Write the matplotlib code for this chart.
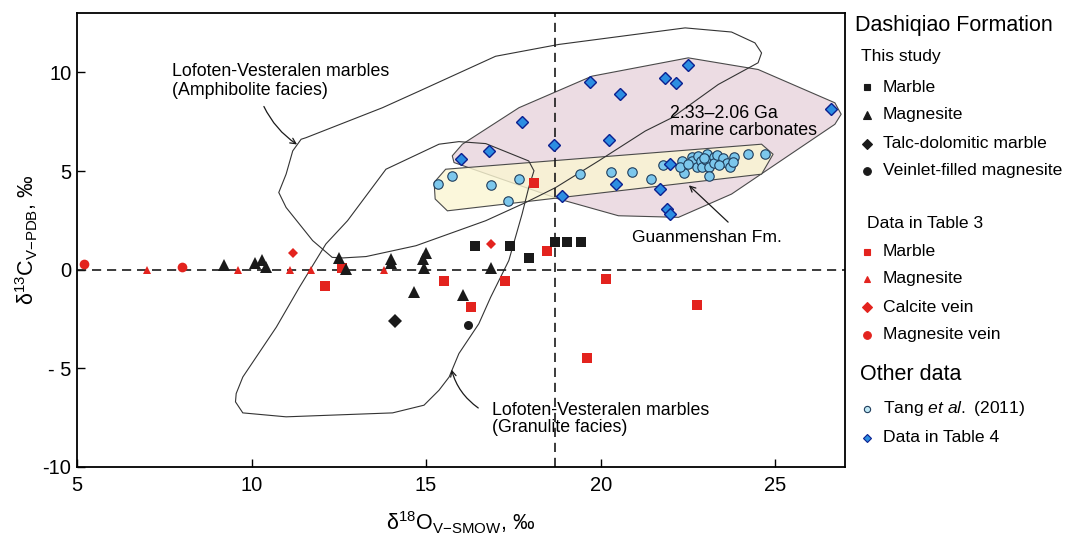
import numpy as np
import matplotlib
matplotlib.use("Agg")
import matplotlib.pyplot as plt
from matplotlib.patches import Polygon

plt.rcParams['font.family'] = ['Liberation Sans', 'DejaVu Sans']
plt.rcParams['mathtext.fontset'] = 'custom'
plt.rcParams['mathtext.rm'] = 'Liberation Sans'
plt.rcParams['mathtext.it'] = 'Liberation Sans:italic'
plt.rcParams['mathtext.bf'] = 'Liberation Sans:bold'

# ---- data: this study (black) ----
marble_x = [16.4, 17.4, 17.95, 18.7, 19.05, 19.45]
marble_y = [1.2, 1.2, 0.6, 1.4, 1.4, 1.4]
magn_x = [9.2, 10.1, 10.3, 10.4, 12.5, 12.7, 14.0, 14.0, 14.9, 15.0, 14.95, 14.65, 16.05, 16.85]
magn_y = [0.25, 0.35, 0.5, 0.15, 0.6, 0.05, 0.55, 0.35, 0.55, 0.85, 0.1, -1.15, -1.3, 0.1]
talc_x = [14.1]
talc_y = [-2.6]
veinlet_x = [16.2]
veinlet_y = [-2.8]

# ---- data in Table 3 (red) ----
t3_marble_x = [12.1, 12.6, 15.5, 16.3, 17.25, 18.45, 18.1, 20.15, 19.6, 22.75]
t3_marble_y = [-0.85, 0.1, -0.6, -1.9, -0.6, 0.95, 4.4, -0.5, -4.5, -1.8]
t3_magn_x = [7.0, 9.6, 11.1, 11.7, 13.8]
t3_magn_y = [0.0, 0.0, 0.0, 0.0, 0.0]
t3_calcite_x = [11.2, 16.85]
t3_calcite_y = [0.85, 1.3]
t3_mvein_x = [5.2, 8.0]
t3_mvein_y = [0.3, 0.15]

# ---- other data ----
tang_x = [15.35, 15.75, 16.85, 17.65, 17.35, 19.4, 20.3, 20.9, 21.45, 21.8, 22.4,
          22.32, 22.28, 22.61, 22.63, 22.75, 22.8, 22.88, 22.91, 23.04, 23.01, 23.09,
          23.11, 23.26, 23.26, 23.32, 23.51, 23.61, 23.72, 23.83, 23.8, 24.23, 24.72,
          22.5, 22.95, 23.4]
tang_y = [4.35, 4.75, 4.3, 4.6, 3.5, 4.85, 4.95, 4.95, 4.6, 5.3, 4.9,
          5.51, 5.21, 5.72, 5.51, 5.21, 5.77, 5.51, 5.21, 5.85, 5.54, 5.18,
          4.75, 5.72, 5.43, 5.8, 5.68, 5.43, 5.21, 5.72, 5.48, 5.85, 5.85,
          5.35, 5.65, 5.3]
t4_x = [16.0, 16.8, 17.75, 18.65, 19.7, 20.55, 20.25, 20.45, 18.9, 22.5, 21.85,
        22.15, 26.6, 22.0, 21.7, 21.9, 22.0]
t4_y = [5.6, 6.0, 7.5, 6.3, 9.5, 8.9, 6.55, 4.35, 3.75, 10.4, 9.7,
        9.45, 8.15, 5.35, 4.1, 3.05, 2.8]

# ---- field outlines ----
amph_x = [11.42, 11.56, 13.75, 14.8, 16.99, 18.8, 22.42, 23.75, 24.42, 24.61, 24.51,
          23.37, 22.04, 21.28, 19.94, 18.71, 17.85, 16.71, 14.71, 13.28, 12.61, 12.31,
          11.75, 10.99, 10.78, 10.99, 11.18]
amph_y = [6.61, 6.69, 8.21, 9.05, 10.82, 11.42, 12.26, 12.05, 11.5, 10.99, 10.49,
          9.39, 7.7, 7.03, 5.51, 4.16, 3.4, 2.48, 1.21, 0.66, 0.59, 0.62,
          1.47, 3.15, 3.91, 4.84, 6.02]
gran_x = [13.85, 15.37, 15.94, 16.71, 17.94, 18.09, 17.94, 17.75, 17.37, 16.85, 16.51,
          15.94, 15.66, 15.37, 14.94, 14.04, 10.99, 9.75, 9.54, 9.56, 9.75, 10.71,
          11.37, 12.13, 12.75]
gran_y = [5.09, 6.36, 6.49, 6.39, 5.51, 5.01, 4.16, 2.82, 0.46, -1.4, -2.75,
          -4.26, -5.45, -6.12, -6.88, -7.27, -7.47, -7.27, -6.71, -6.29, -5.45, -2.92,
          -0.9, 1.3, 2.48]
marine_x = [15.75, 16.04, 17.66, 19.75, 22.51, 24.51, 26.71, 26.89, 26.71, 23.75,
            22.23, 20.51, 18.8, 15.8]
marine_y = [5.77, 6.36, 8.21, 9.81, 10.74, 10.15, 8.46, 7.88, 7.37, 3.83,
            2.65, 2.73, 3.58, 5.43]
guan_x = [15.23, 15.56, 24.61, 24.94, 24.61, 15.61, 15.26]
guan_y = [4.42, 5.09, 6.36, 5.85, 4.84, 2.98, 3.58]

fig = plt.figure(figsize=(10.67, 5.34), dpi=100)
ax = fig.add_axes([77 / 1067, 1 - 466.7 / 534, (845 - 77) / 1067, (466.7 - 13.3) / 534])

ax.add_patch(Polygon(np.column_stack([marine_x, marine_y]), closed=True,
                     facecolor='#ecdce3', edgecolor='#4a4a4a', lw=0.8, zorder=1))
ax.add_patch(Polygon(np.column_stack([guan_x, guan_y]), closed=True,
                     facecolor='#fbf6d2', edgecolor='none', alpha=0.8, zorder=1.5))
ax.add_patch(Polygon(np.column_stack([guan_x, guan_y]), closed=True,
                     facecolor='none', edgecolor='#4a4a4a', lw=0.8, zorder=1.6))
ax.add_patch(Polygon(np.column_stack([amph_x, amph_y]), closed=True,
                     facecolor='none', edgecolor='#333333', lw=0.8, zorder=2))
ax.add_patch(Polygon(np.column_stack([gran_x, gran_y]), closed=True,
                     facecolor='none', edgecolor='#333333', lw=0.8, zorder=2))

ax.axhline(0, color='#1a1a1a', lw=1.2, ls=(0, (5.5, 3.5)), zorder=2.5)
ax.axvline(18.7, color='#1a1a1a', lw=1.2, ls=(0, (5.5, 3.5)), zorder=2.5)

red = '#e3231e'
blk = '#1a1a1a'
ax.plot(tang_x, tang_y, 'o', ms=6.8, mfc='#7cc7ec', mec='#1f3d5c', mew=0.8, zorder=3)
ax.plot(t4_x, t4_y, 'D', ms=6, mfc='#2c8ee2', mec='#0b1f8f', mew=1.0, zorder=3.2)
ax.plot(t3_marble_x, t3_marble_y, 's', ms=6.5, color=red, mew=0, zorder=4)
ax.plot(t3_magn_x, t3_magn_y, '^', ms=6, color=red, mew=0, zorder=4)
ax.plot(t3_calcite_x, t3_calcite_y, 'D', ms=5, color=red, mew=0, zorder=4)
ax.plot(t3_mvein_x, t3_mvein_y, 'o', ms=7, color=red, mew=0, zorder=4)
ax.plot(marble_x, marble_y, 's', ms=6.5, color=blk, mew=0, zorder=4)
ax.plot(magn_x, magn_y, '^', ms=8, color=blk, mew=0, zorder=4)
ax.plot(talc_x, talc_y, 'D', ms=7, color=blk, mew=0, zorder=4)
ax.plot(veinlet_x, veinlet_y, 'o', ms=6.5, color=blk, mew=0, zorder=4)

# annotations
ax.text(7.73, 10.03, 'Lofoten-Vesteralen marbles', fontsize=12.8, va='center')
ax.text(7.73, 9.09, '(Amphibolite facies)', fontsize=12.8, va='center')
ax.annotate('', xy=(11.37, 6.27), xytext=(10.32, 8.4),
            arrowprops=dict(arrowstyle='->', lw=0.9, color=blk,
                            connectionstyle='arc3,rad=0.15'))
ax.text(16.89, -7.13, 'Lofoten-Vesteralen marbles', fontsize=12.8, va='center')
ax.text(16.89, -8.0, '(Granulite facies)', fontsize=12.8, va='center')
ax.annotate('', xy=(15.71, -4.94), xytext=(16.56, -7.1),
            arrowprops=dict(arrowstyle='->', lw=0.9, color=blk,
                            connectionstyle='arc3,rad=-0.2'))
ax.text(21.99, 7.91, '2.33\u20132.06 Ga', fontsize=12.8, va='center')
ax.text(21.99, 7.03, 'marine carbonates', fontsize=12.8, va='center')
ax.text(20.89, 1.63, 'Guanmenshan Fm.', fontsize=12.6, va='center')
ax.annotate('', xy=(22.47, 4.37), xytext=(23.71, 2.31),
            arrowprops=dict(arrowstyle='->', lw=0.9, color=blk))

ax.set_xlim(5, 27)
ax.set_ylim(-10, 13)
ax.set_xticks([5, 10, 15, 20, 25])
ax.set_yticks([-10, -5, 0, 5, 10])
ax.set_yticklabels(['-10', '- 5', '0', '5', '10'])
ax.tick_params(direction='in', length=6, width=1.0, labelsize=14.5)
ax.tick_params(axis='x', pad=7)
ax.tick_params(axis='y', pad=4)
for s in ax.spines.values():
    s.set_linewidth(1.3)
ax.set_xlabel('δ$^{18}$O$_{\\mathrm{V{-}SMOW}}$, ‰', fontsize=15.5, labelpad=10)
ax.set_ylabel('δ$^{13}$C$_{\\mathrm{V{-}PDB}}$, ‰', fontsize=15.5, labelpad=2)

# legend panel (pixel coordinates)
lg = fig.add_axes([845 / 1067, 0, 222 / 1067, 1])
lg.set_xlim(845, 1067)
lg.set_ylim(534, 0)
lg.axis('off')
lg.text(855, 25, 'Dashiqiao Formation', fontsize=15.5, va='center')
lg.text(861, 56, 'This study', fontsize=12.6, va='center')
lg.text(867, 223, 'Data in Table 3', fontsize=12.6, va='center')
lg.text(860, 375, 'Other data', fontsize=15.5, va='center')
items = [
    (87, 's', blk, blk, 5, 'Marble'),
    (115, '^', blk, blk, 6, 'Magnesite'),
    (144, 'D', blk, blk, 5, 'Talc-dolomitic marble'),
    (171, 'o', blk, blk, 5.5, 'Veinlet-filled magnesite'),
    (252, 's', red, red, 5, 'Marble'),
    (279, '^', red, red, 5, 'Magnesite'),
    (307, 'D', red, red, 5.5, 'Calcite vein'),
    (335, 'o', red, red, 5.5, 'Magnesite vein'),
    (409, 'o', '#bfe8f5', '#1f3d5c', 4.5, 'Tang $\\it{et\\ al.}$ (2011)'),
    (438, 'D', '#2c8ee2', '#0b1f8f', 4.5, 'Data in Table 4'),
]
for yy, mk, fc, ec, ms, lab in items:
    lg.plot([867], [yy], mk, ms=ms, mfc=fc, mec=ec, mew=0.8, clip_on=False)
    lg.text(883, yy, lab, fontsize=12.6, va='center')

fig.savefig('out.png', dpi=100)
